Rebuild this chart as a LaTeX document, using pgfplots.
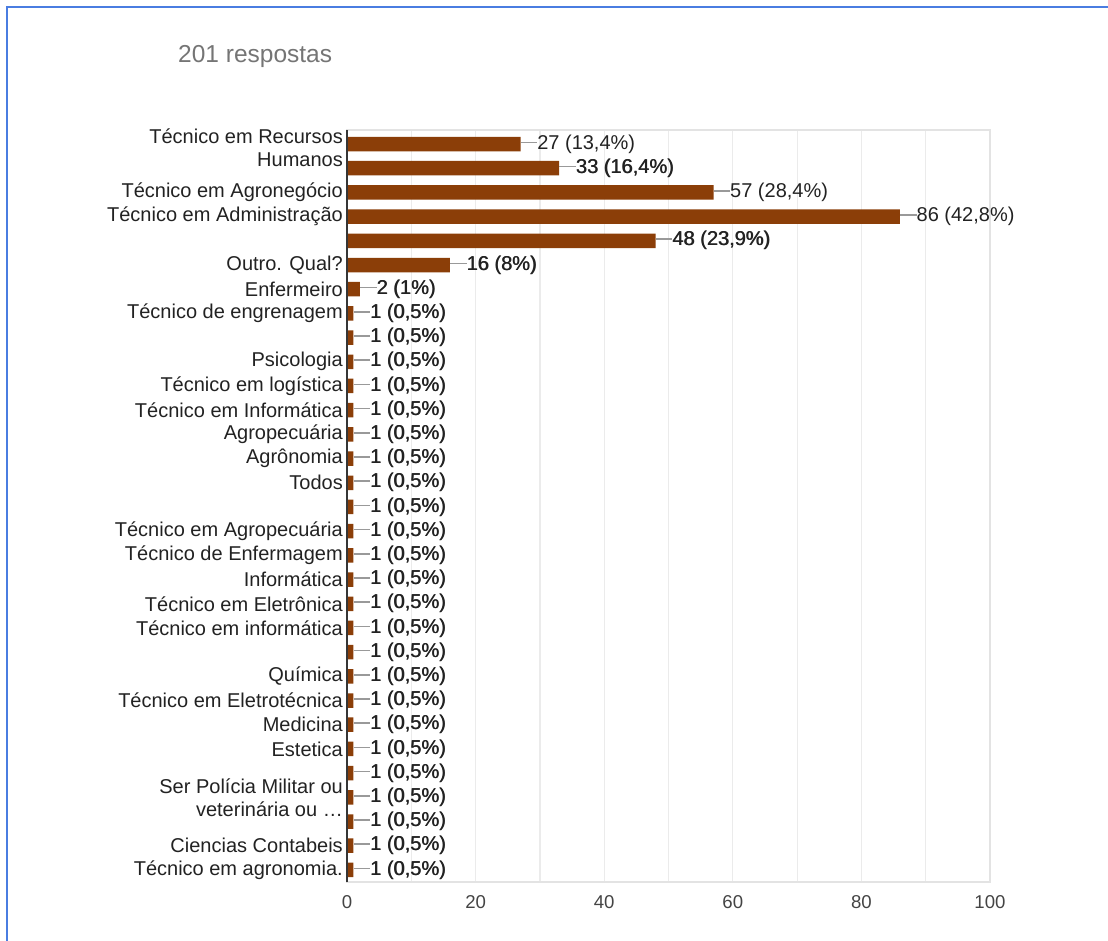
\documentclass[border=0pt]{standalone}
\usepackage{pgfplots}
\pgfplotsset{compat=1.18}
\usepackage{pgfplotstable}
\usepackage{fontspec}
\setmainfont{Liberation Sans}

\definecolor{barbrown}{RGB}{139,62,8}
\definecolor{cardblue}{RGB}{74,125,225}
\definecolor{leadgray}{HTML}{999999}
\definecolor{gridgray}{HTML}{EBEBEB}
\definecolor{framegray}{HTML}{E3E3E3}
\definecolor{labdark}{HTML}{222222}
\definecolor{tickgray}{HTML}{444444}
\definecolor{titlegray}{HTML}{757575}

% faux bold, as the chart draws some labels twice
\newcommand\fb[1]{\rlap{#1}\kern0.6pt#1}

\pgfplotstableread[col sep=semicolon]{
val;row;lab
27;0;27 (13,4\%)
33;1;\fb{33 (16,4\%)}
57;2;57 (28,4\%)
86;3;86 (42,8\%)
48;4;\fb{48 (23,9\%)}
16;5;\fb{16 (8\%)}
2;6;\fb{2 (1\%)}
1;7;\fb{1 (0,5\%)}
1;8;\fb{1 (0,5\%)}
1;9;\fb{1 (0,5\%)}
1;10;\fb{1 (0,5\%)}
1;11;\fb{1 (0,5\%)}
1;12;\fb{1 (0,5\%)}
1;13;\fb{1 (0,5\%)}
1;14;\fb{1 (0,5\%)}
1;15;\fb{1 (0,5\%)}
1;16;\fb{1 (0,5\%)}
1;17;\fb{1 (0,5\%)}
1;18;\fb{1 (0,5\%)}
1;19;\fb{1 (0,5\%)}
1;20;\fb{1 (0,5\%)}
1;21;\fb{1 (0,5\%)}
1;22;\fb{1 (0,5\%)}
1;23;\fb{1 (0,5\%)}
1;24;\fb{1 (0,5\%)}
1;25;\fb{1 (0,5\%)}
1;26;\fb{1 (0,5\%)}
1;27;\fb{1 (0,5\%)}
1;28;\fb{1 (0,5\%)}
1;29;\fb{1 (0,5\%)}
1;30;\fb{1 (0,5\%)}
}\respostas

\begin{document}
\begin{tikzpicture}[x=1pt,y=1pt]
\path[use as bounding box] (0,0) rectangle (1108,940);
% card border
\draw[cardblue, line width=1.8pt] (7,-2) -- (7,933) -- (1110,933);
\node[anchor=base west, text=titlegray, inner sep=0pt,
      font=\fontsize{24.5}{28}\selectfont] at (178,877) {201 respostas};

\begin{axis}[
    at={(347pt,58pt)}, anchor=south west,
    scale only axis,
    width=643pt, height=752pt,
    xbar, bar width=14.5pt,
    xmin=0, xmax=100,
    ymin=-0.58, ymax=30.5,
    y dir=reverse,
    clip=false,
    xtick={0,20,...,100},
    minor x tick num=1,
    xmajorgrids, xminorgrids,
    major grid style={gridgray, line width=1.2pt},
    minor grid style={gridgray, line width=1.2pt},
    major tick length=0pt, minor tick length=0pt,
    axis line style={framegray, line width=1.2pt},
    ytick={0.15,2,3,5,6,7,9,10,11,12,13,14,16,17,18,19,20,22,23,24,25,27,29,30},
    yticklabels={
        {Técnico em Recursos\\Humanos},
        Técnico em Agronegócio,
        Técnico em Administração,
        Outro. Qual?,
        Enfermeiro,
        Técnico de engrenagem,
        Psicologia,
        Técnico em logística,
        Técnico em Informática,
        Agropecuária,
        Agrônomia,
        Todos,
        Técnico em Agropecuária,
        Técnico de Enfermagem,
        Informática,
        Técnico em Eletrônica,
        Técnico em informática,
        Química,
        Técnico em Eletrotécnica,
        Medicina,
        Estetica,
        {Ser Polícia Militar ou\\veterinária ou …},
        Ciencias Contabeis,
        Técnico em agronomia.},
    yticklabel style={font=\fontsize{20}{23}\selectfont, text=labdark,
        align=right, inner xsep=0pt, xshift=-4pt},
    xticklabel style={font=\fontsize{18.6}{22}\selectfont, text=tickgray,
        inner ysep=0pt, yshift=-13pt},
    /pgf/number format/assume math mode=true,
    point meta=explicit symbolic,
    nodes near coords={\textcolor{leadgray}{\rule[0.3em]{16.5pt}{1.5pt}}\pgfplotspointmeta},
    nodes near coords align={horizontal},
    every node near coord/.append style={anchor=west, inner sep=0pt,
        font=\fontsize{20}{23}\selectfont, text=labdark},
]
\addplot[fill=barbrown, draw=none] table[x=val, y=row, meta=lab] {\respostas};
\draw[tickgray!80!black, line width=2pt] (rel axis cs:0,0) -- (rel axis cs:0,1);
\end{axis}
\end{tikzpicture}
\end{document}
